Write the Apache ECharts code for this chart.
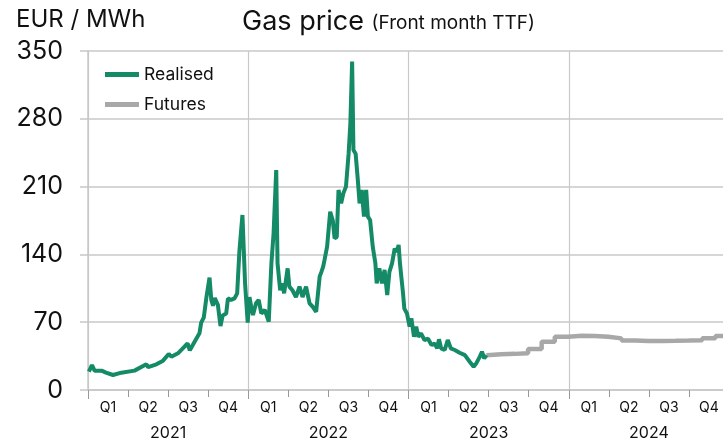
<!doctype html>
<html>
<head>
<meta charset="utf-8">
<script src="https://cdn.jsdelivr.net/npm/echarts@6/dist/echarts.min.js"></script>
<style>
    html, body { margin: 0; padding: 0; background: #fff; }
    #chart { width: 723px; height: 442px; }
</style>
</head>
<body>
<div id="chart"></div>
<script>
// realised front month TTF
var realisedDates = [
  '2021-01-03','2021-01-10','2021-01-16','2021-02-01','2021-02-11','2021-02-27','2021-03-18','2021-04-17',
  '2021-05-14','2021-05-18','2021-06-06','2021-06-21','2021-07-04','2021-07-10','2021-07-25','2021-08-09',
  '2021-08-16','2021-08-21','2021-09-01','2021-09-12','2021-09-16','2021-09-22','2021-09-28','2021-10-05',
  '2021-10-09','2021-10-13','2021-10-17','2021-10-24','2021-10-30','2021-11-04','2021-11-12','2021-11-16',
  '2021-11-23','2021-12-01','2021-12-07','2021-12-12','2021-12-19','2021-12-25','2021-12-31',
  '2022-01-04','2022-01-08','2022-01-12','2022-01-19','2022-01-25','2022-01-31','2022-02-08','2022-02-17',
  '2022-02-23','2022-02-28','2022-03-06','2022-03-09','2022-03-15','2022-03-20','2022-03-24','2022-04-01',
  '2022-04-05','2022-04-12','2022-04-20','2022-04-28','2022-05-05','2022-05-13','2022-05-21','2022-05-28',
  '2022-06-05','2022-06-13','2022-06-17','2022-06-21','2022-06-24','2022-06-30','2022-07-07','2022-07-09',
  '2022-07-13','2022-07-17','2022-07-22','2022-07-26','2022-08-01','2022-08-06','2022-08-12','2022-08-18',
  '2022-08-22','2022-08-26','2022-08-29','2022-09-03','2022-09-08','2022-09-12','2022-09-17','2022-09-22',
  '2022-09-27','2022-10-01','2022-10-06','2022-10-12','2022-10-18','2022-10-21','2022-10-27','2022-11-02',
  '2022-11-08','2022-11-14','2022-11-19','2022-11-25','2022-12-01','2022-12-06','2022-12-10','2022-12-13',
  '2022-12-20','2022-12-23','2022-12-29',
  '2023-01-04','2023-01-08','2023-01-14','2023-01-19','2023-01-24','2023-01-30','2023-02-07','2023-02-15',
  '2023-02-23','2023-03-02','2023-03-08','2023-03-12','2023-03-17','2023-03-25','2023-04-01','2023-04-08',
  '2023-04-17','2023-04-28','2023-05-10','2023-05-21','2023-05-30','2023-06-05','2023-06-13','2023-06-18',
  '2023-06-23','2023-06-28'
];
var realisedValues = [
  19, 25.8, 20, 20, 18, 15.5, 17.9, 20,
  26.5, 23.6, 26.5, 30.3, 37.2, 34.4, 37.9, 44.7,
  48.2, 41, 49.9, 58.5, 69.5, 75, 96, 116,
  93, 87, 95, 88, 66, 77, 79, 94.6,
  93, 94.6, 99.8, 142.8, 180.7, 110, 69.5,
  96, 86, 77.4, 89.5, 93, 79, 82.6, 70.5,
  130.8, 161.8, 227, 130.8, 103, 110, 99.8, 125.6,
  106.7, 103, 96, 106.7, 96, 106.7, 89.5, 86,
  80.8, 117, 122, 127.3, 134, 148, 184, 182.4,
  175, 156.6, 158, 206.5, 192.7, 203, 210, 244,
  275, 339, 247.8, 244, 216.8, 192.7, 206.5, 179,
  206.5, 179, 175.5, 148, 130.8, 110, 125.6, 110,
  124, 98, 122, 130.8, 146, 143, 149.7, 130.8,
  100, 84, 79,
  65.4, 74, 55, 65.4, 55, 58.5, 51.6, 53,
  46.5, 48, 43, 52.3, 43, 41.3, 51.6, 43,
  41.3, 38.5, 36, 29.2, 24, 27.5, 34.4, 39.5,
  32.7, 36
];

// futures curve, monthly contracts
var futuresDates = [
  '2023-06-28','2023-07-01','2023-08-01','2023-09-01','2023-10-01','2023-11-01','2023-12-01',
  '2024-01-01','2024-02-01','2024-03-01','2024-04-01','2024-05-01','2024-06-01',
  '2024-07-01','2024-08-01','2024-09-01','2024-10-01','2024-11-01','2024-12-01','2025-01-01'
];
var futuresValues = [
  36, 36.8, 37.3, 38, 42.3, 49.9, 55,
  56, 55.8, 55, 53.3, 51.2, 50.6,
  50.6, 50.8, 51, 51.3, 53.5, 55.7, 55.7
];

var quarterLabels = ['Q1','Q2','Q3','Q4','Q1','Q2','Q3','Q4','Q1','Q2','Q3','Q4','Q1','Q2','Q3','Q4'];
var yearLabels = ['2021', '2022', '2023', '2024'];

var FONT = 'Inter';
var GRID_COLOR = '#c8c8c8';
var GREEN = '#148a66';
var GREY = '#a8a8a8';

function pairs(dates, values) {
    var out = [];
    for (var i = 0; i < dates.length; i++) {
        out.push([dates[i], values[i]]);
    }
    return out;
}

var myChart = echarts.init(document.getElementById('chart'), null, { renderer: 'canvas' });

var option = {
    animation: false,
    textStyle: { fontFamily: FONT },
    title: {
        text: 'Gas price {s|(Front month TTF)}',
        left: 237,
        top: 3,
        textStyle: {
            fontFamily: FONT,
            fontSize: 27,
            fontWeight: 'normal',
            color: '#111',
            rich: {
                s: { fontFamily: FONT, fontSize: 19, color: '#111', padding: [4, 0, 0, 0] }
            }
        }
    },
    graphic: [{
        type: 'text',
        left: 16,
        top: 8,
        style: { text: 'EUR / MWh', fontFamily: FONT, fontSize: 24, fill: '#111' }
    }],
    legend: {
        orient: 'vertical',
        left: 100,
        top: 60,
        itemWidth: 34,
        itemHeight: 5,
        itemGap: 11,
        icon: 'rect',
        textStyle: { fontFamily: FONT, fontSize: 17.5, color: '#111', lineHeight: 19 },
        data: ['Realised', 'Futures']
    },
    // v6 shrinks the grid to keep labels inside; the reference runs past the right edge
    grid: { left: 88, top: 51, width: 641, height: 339, outerBoundsMode: 'none' },
    xAxis: [{
        type: 'time',
        min: '2021-01-01',
        max: '2025-01-01',
        axisLine: { show: true, lineStyle: { color: GRID_COLOR, width: 1.5 } },
        axisTick: { show: false },
        axisLabel: { show: false },
        splitLine: { show: false }
    }, {
        type: 'category',
        position: 'bottom',
        data: quarterLabels,
        axisLine: { show: false },
        axisTick: { show: true, length: 7, lineStyle: { color: '#999' } },
        axisLabel: { margin: 11, fontFamily: FONT, fontSize: 14, color: '#111' },
        splitLine: { show: false }
    }, {
        type: 'category',
        position: 'bottom',
        data: yearLabels,
        axisLine: { show: false },
        axisTick: { show: true, length: 9, lineStyle: { color: '#999' } },
        axisLabel: { margin: 35, fontFamily: FONT, fontSize: 16, color: '#111' },
        splitLine: { show: true, lineStyle: { color: GRID_COLOR, width: 1.2 } }
    }],
    yAxis: {
        type: 'value',
        min: 0,
        max: 350,
        interval: 70,
        axisLine: { show: true, lineStyle: { color: GRID_COLOR, width: 1.5 } },
        axisTick: { show: true, length: 8, lineStyle: { color: GRID_COLOR, width: 1.5 } },
        axisLabel: { margin: 25, fontFamily: FONT, fontSize: 25, color: '#111' },
        splitLine: { show: true, lineStyle: { color: GRID_COLOR, width: 1.5 } }
    },
    series: [{
        name: 'Futures',
        type: 'line',
        xAxisIndex: 0,
        step: 'end',
        showSymbol: false,
        data: pairs(futuresDates, futuresValues),
        itemStyle: { color: GREY },
        lineStyle: { color: GREY, width: 4.5 },
        z: 2
    }, {
        name: 'Realised',
        type: 'line',
        xAxisIndex: 0,
        showSymbol: false,
        data: pairs(realisedDates, realisedValues),
        itemStyle: { color: GREEN },
        lineStyle: { color: GREEN, width: 4 },
        z: 3
    }]
};

myChart.setOption(option);
</script>
</body>
</html>
